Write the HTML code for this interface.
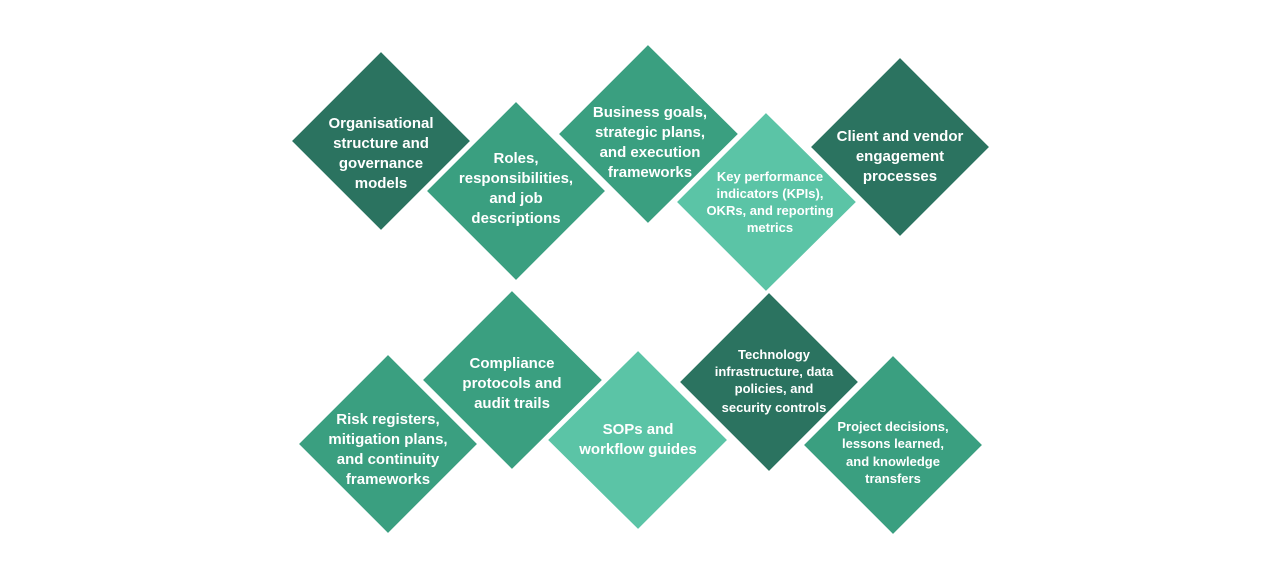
<!DOCTYPE html>
<html><head><meta charset="utf-8"><style>
html,body{margin:0;padding:0;background:#fff;}
svg{display:block;}
text{font-family:"Liberation Sans",sans-serif;font-weight:bold;fill:#fff;text-anchor:middle;}
</style></head><body>
<svg width="1281" height="579" viewBox="0 0 1281 579">
<g stroke="#fff" stroke-width="3">
<polygon points="381,50 472,141 381,232 290,141" fill="#2b7360"/>
<polygon points="516,100 607,191 516,282 425,191" fill="#3a9f80"/>
<polygon points="648,43 740,134 648,225 557,134" fill="#3a9f80"/>
<polygon points="766,111 858,202 766,293 675,202" fill="#5bc4a6"/>
<polygon points="900,56 991,147 900,238 809,147" fill="#2b7360"/>
<polygon points="388,353 479,444 388,535 297,444" fill="#3a9f80"/>
<polygon points="512,289 604,380 512,471 421,380" fill="#3a9f80"/>
<polygon points="638,349 729,440 638,531 546,440" fill="#5bc4a6"/>
<polygon points="769,291 860,382 769,473 678,382" fill="#2b7360"/>
<polygon points="893,354 984,445 893,536 802,445" fill="#3a9f80"/>
</g>
<g font-size="15">
<text x="381" y="128">Organisational</text><text x="381" y="148">structure and</text><text x="381" y="168">governance</text><text x="381" y="188">models</text>
<text x="516" y="163">Roles,</text><text x="516" y="183">responsibilities,</text><text x="516" y="203">and job</text><text x="516" y="223">descriptions</text>
<text x="650" y="117">Business goals,</text><text x="650" y="137">strategic plans,</text><text x="650" y="157">and execution</text><text x="650" y="177">frameworks</text>
<text x="900" y="141">Client and vendor</text><text x="900" y="161">engagement</text><text x="900" y="181">processes</text>
<text x="512" y="368">Compliance</text><text x="512" y="388">protocols and</text><text x="512" y="408">audit trails</text>
<text x="388" y="424">Risk registers,</text><text x="388" y="444">mitigation plans,</text><text x="388" y="464">and continuity</text><text x="388" y="484">frameworks</text>
<text x="638" y="434">SOPs and</text><text x="638" y="454">workflow guides</text>
</g>
<g font-size="13">
<text x="770" y="181">Key performance</text><text x="770" y="198">indicators (KPIs),</text><text x="770" y="215">OKRs, and reporting</text><text x="770" y="232">metrics</text>
<text x="774" y="359">Technology</text><text x="774" y="376">infrastructure, data</text><text x="774" y="393">policies, and</text><text x="774" y="412">security controls</text>
<text x="893" y="431">Project decisions,</text><text x="893" y="448">lessons learned,</text><text x="893" y="466">and knowledge</text><text x="893" y="483">transfers</text>
</g>
</svg>
</body></html>
